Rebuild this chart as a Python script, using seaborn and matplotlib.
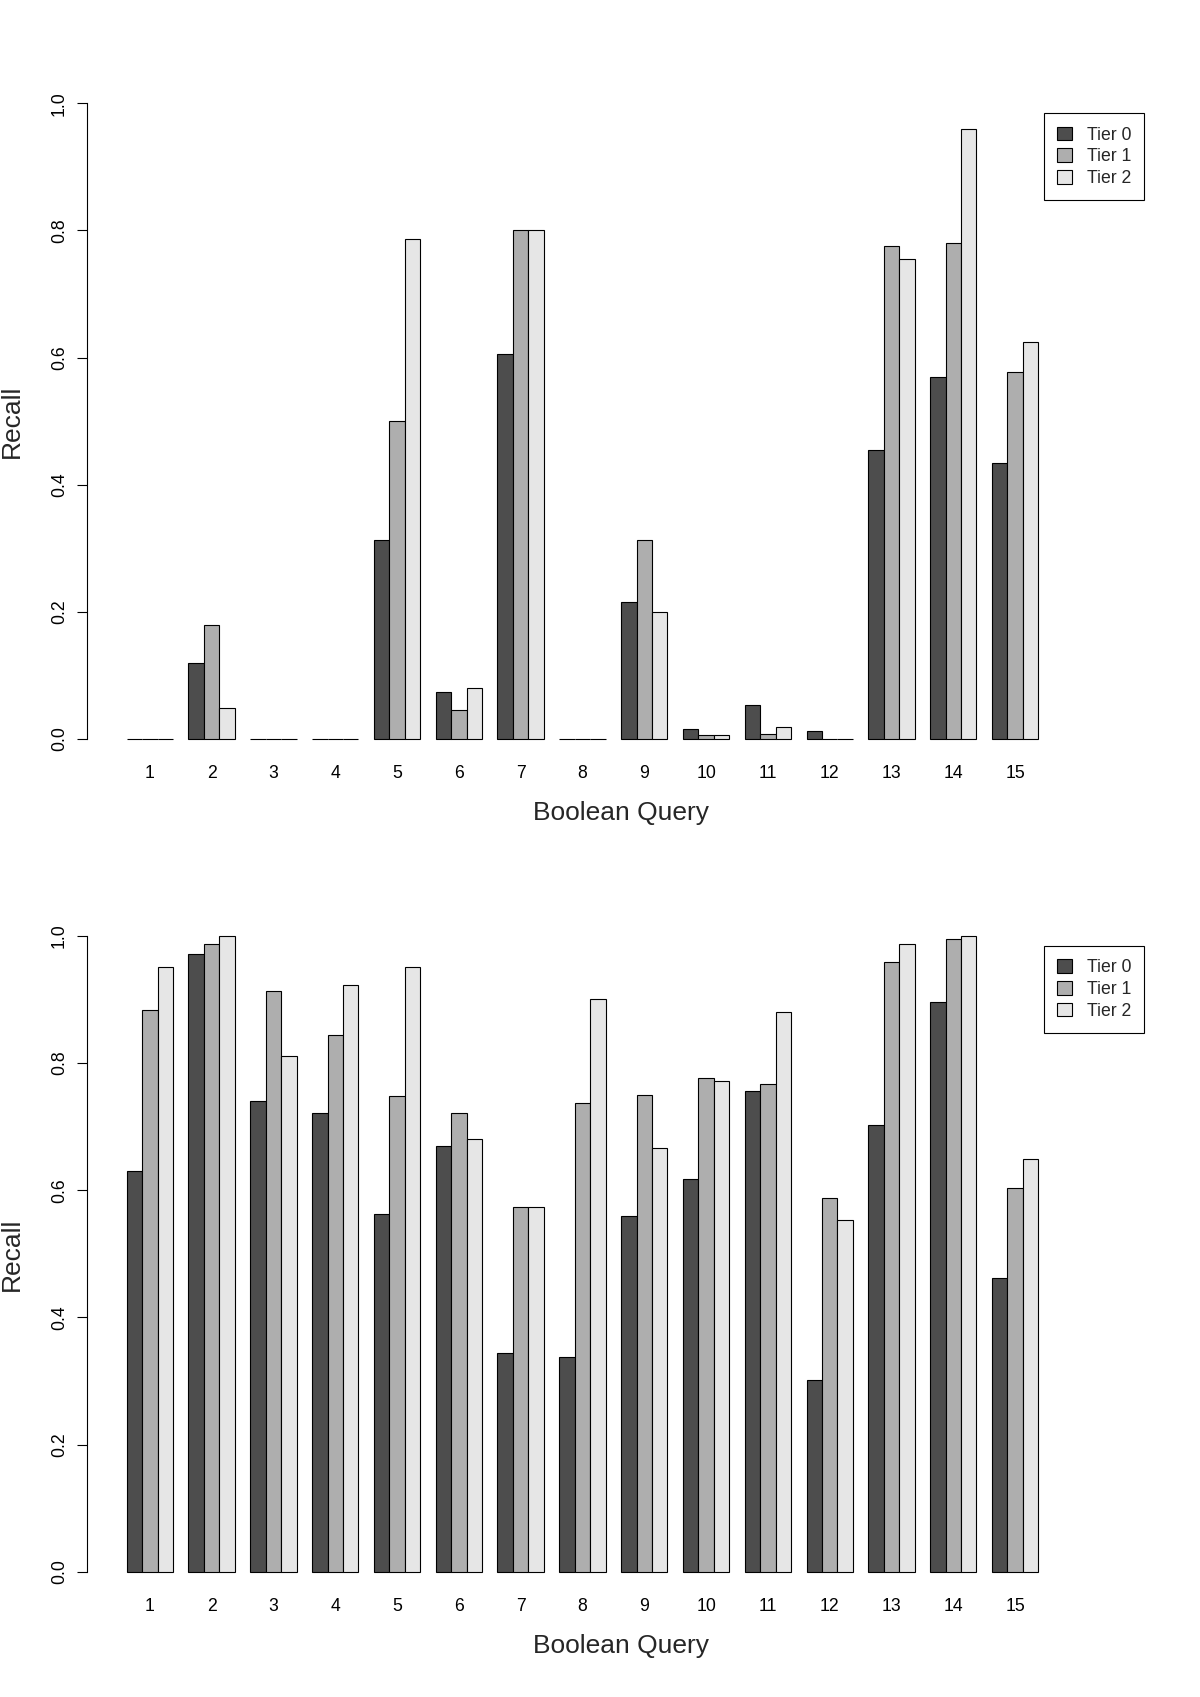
import matplotlib
matplotlib.use("Agg")
import matplotlib.pyplot as plt
from matplotlib.patches import Patch
import pandas as pd
import seaborn as sns

# Categories and series
queries = [str(i) for i in range(1, 16)]
tiers = ["Tier 0", "Tier 1", "Tier 2"]
tier_colors = ["#4D4D4D", "#AEAEAE", "#E6E6E6"]  # R gray.colors(3)

# Top panel recall values
top_tier0 = [0.0, 0.119, 0.0, 0.0, 0.313, 0.074, 0.605, 0.0, 0.216, 0.016, 0.054, 0.013, 0.455, 0.569, 0.434]
top_tier1 = [0.0, 0.179, 0.0, 0.0, 0.501, 0.046, 0.801, 0.0, 0.313, 0.007, 0.008, 0.0, 0.775, 0.780, 0.578]
top_tier2 = [0.0, 0.049, 0.0, 0.0, 0.787, 0.080, 0.801, 0.0, 0.200, 0.007, 0.019, 0.0, 0.755, 0.959, 0.625]

# Bottom panel recall values
bottom_tier0 = [0.630, 0.971, 0.741, 0.721, 0.562, 0.670, 0.344, 0.337, 0.559, 0.617, 0.756, 0.302, 0.702, 0.896, 0.462]
bottom_tier1 = [0.884, 0.988, 0.913, 0.845, 0.748, 0.721, 0.574, 0.738, 0.750, 0.777, 0.768, 0.588, 0.959, 0.995, 0.603]
bottom_tier2 = [0.951, 1.000, 0.811, 0.923, 0.952, 0.680, 0.574, 0.901, 0.666, 0.772, 0.881, 0.554, 0.988, 1.000, 0.649]

y_ticks = [0.0, 0.2, 0.4, 0.6, 0.8, 1.0]
y_tick_labels = ["0.0", "0.2", "0.4", "0.6", "0.8", "1.0"]


def to_long(t0, t1, t2):
    # long table: one row per bar
    rows = []
    for tier, vals in zip(tiers, [t0, t1, t2]):
        for q, v in zip(queries, vals):
            rows.append({"Query": q, "Tier": tier, "Recall": v})
    return pd.DataFrame(rows)


sns.set_style("white")
plt.rcParams["font.family"] = ["Liberation Sans", "DejaVu Sans"]

fig = plt.figure(figsize=(12, 16.97), dpi=100)

panels = [
    (to_long(top_tier0, top_tier1, top_tier2), 0.54956),
    (to_long(bottom_tier0, bottom_tier1, bottom_tier2), 0.05887),
]

for data, bottom in panels:
    ax = fig.add_axes([0.07258, bottom, 0.89, 0.40453])
    sns.barplot(
        data=data, x="Query", y="Recall", hue="Tier",
        order=queries, hue_order=tiers, palette=tier_colors,
        width=0.75, saturation=1, errorbar=None,
        edgecolor="black", linewidth=0.8, legend=False, ax=ax)

    ax.set_xlim(-1.015, 16.265)
    ax.set_ylim(-0.04, 1.04)

    # R-like axes: only a left axis spanning 0..1
    for side in ["top", "right", "bottom"]:
        ax.spines[side].set_visible(False)
    ax.spines["left"].set_bounds(0, 1)
    ax.spines["left"].set_linewidth(0.8)
    ax.spines["left"].set_color("black")

    ax.set_yticks(y_ticks)
    ax.set_yticklabels(y_tick_labels, rotation=90, va="center")
    ax.tick_params(axis="y", direction="out", length=7.5, width=0.8,
                   pad=6.3, labelsize=12.7, colors="black", left=True)
    ax.tick_params(axis="x", length=0, pad=0.4, labelsize=12.7, colors="black")

    ax.set_ylabel("")
    ax.set_xlabel("Boolean Query", fontsize=19, va="center")
    ax.xaxis.set_label_coords(0.5, -0.0712)
    ax.text(-0.0703, 0.5, "Recall", rotation=90, ha="center", va="center",
            fontsize=19, transform=ax.transAxes)

    handles = [Patch(facecolor=c, edgecolor="black", linewidth=0.8) for c in tier_colors]
    ax.legend(handles, tiers, loc="upper right", bbox_to_anchor=(0.9899, 0.9484),
              borderaxespad=0, fontsize=12.7, frameon=True, fancybox=False,
              edgecolor="black", framealpha=1, handlelength=0.8, handleheight=0.8,
              handletextpad=0.85, labelspacing=0.27, borderpad=0.75)
    ax.get_legend().get_frame().set_linewidth(0.8)

fig.savefig("out.png", dpi=100)
